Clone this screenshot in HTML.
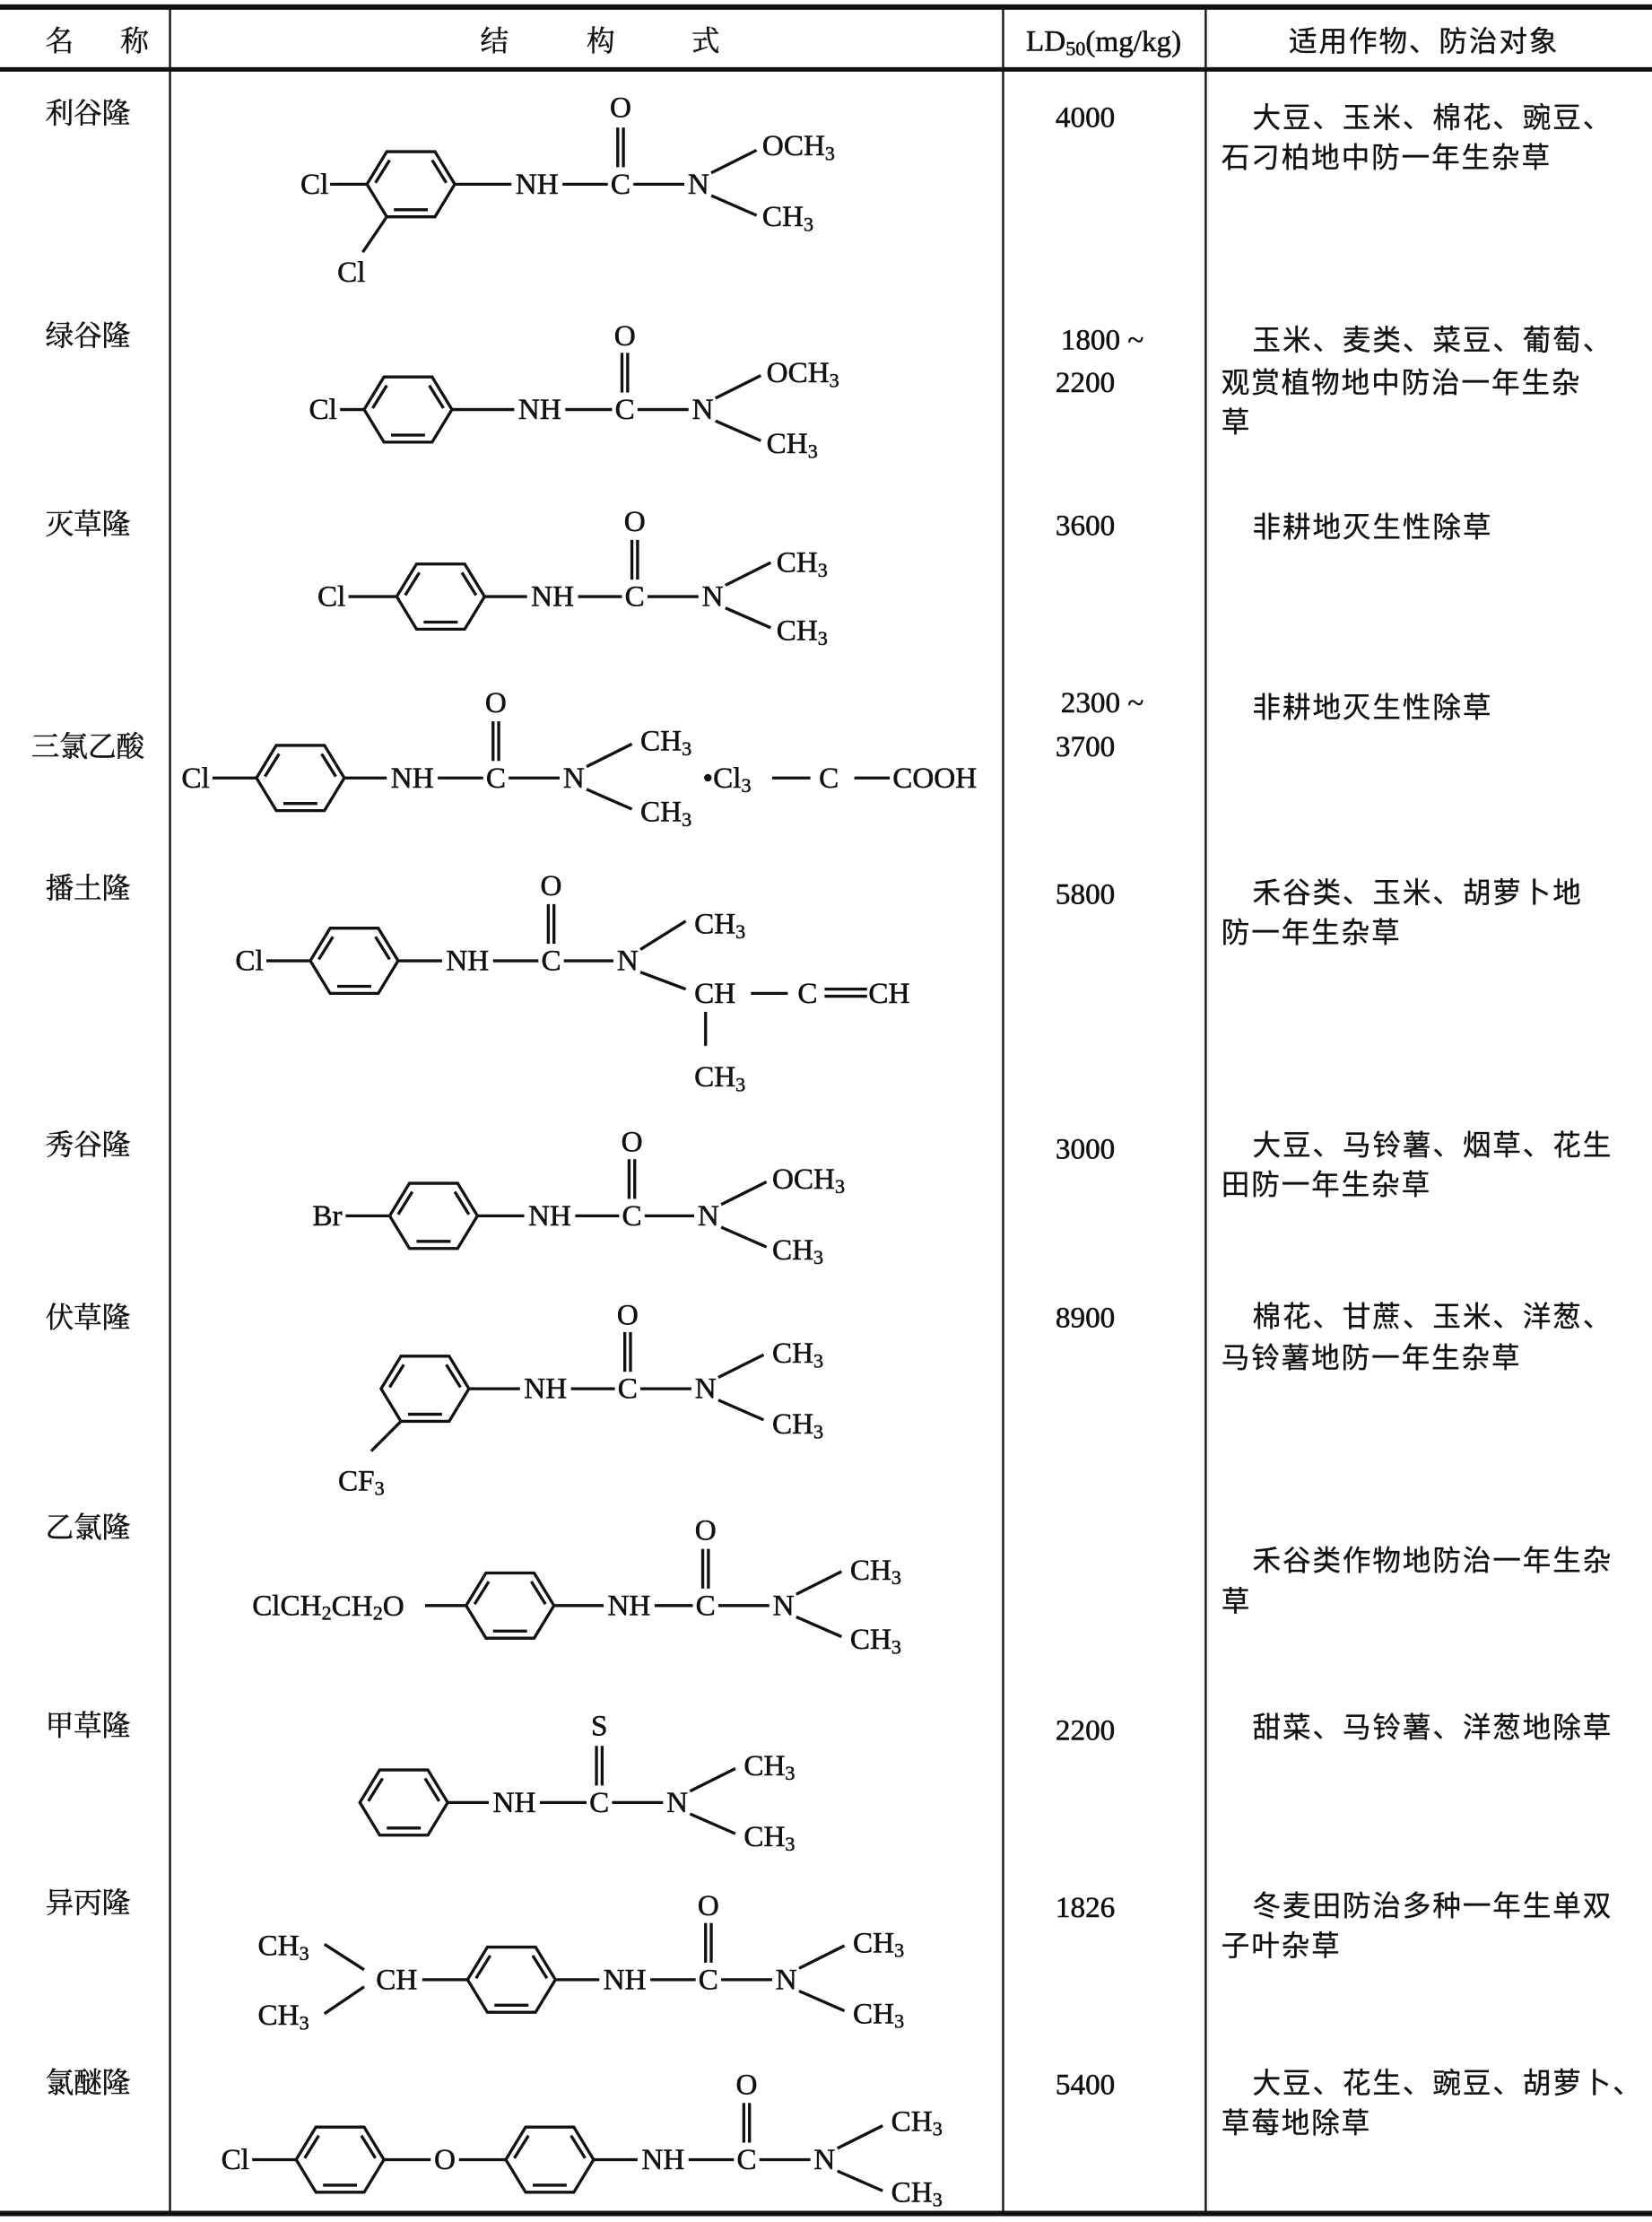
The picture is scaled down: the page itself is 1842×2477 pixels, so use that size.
<!DOCTYPE html>
<html><head><meta charset="utf-8"><style>
html,body{margin:0;padding:0;background:#fff;}
svg{display:block;}
.t{font-family:"Liberation Serif",serif;font-size:21px;dominant-baseline:central;fill:#111;stroke:#111;stroke-width:0.35px;}
.m{text-anchor:middle;}
.c{font-family:"Liberation Serif","Noto Serif CJK SC","Noto Sans CJK SC",serif;font-size:20px;dominant-baseline:central;fill:#111;stroke:#111;stroke-width:0.3px;}
.z{font-family:"Liberation Sans","Noto Sans CJK SC",sans-serif;font-size:20px;dominant-baseline:central;fill:#111;letter-spacing:1.2px;stroke:#111;stroke-width:0.2px;}
line,path{stroke:#111;stroke-width:2.1;fill:none;}
</style></head><body>
<svg width="1842" height="2477" viewBox="0 0 1166 1568" preserveAspectRatio="none" xmlns="http://www.w3.org/2000/svg">
<defs>
<g id="r">
<path d="M-31,0 L-17,-23 L17,-23 L31,0 L17,23 L-17,23 Z"/>
<line x1="-25" y1="-1" x2="-15" y2="-17"/>
<line x1="25" y1="-1" x2="15" y2="-17"/>
<line x1="-12" y1="18" x2="12" y2="18"/>
</g>
</defs>
<line x1="0" y1="5" x2="1166" y2="5" style="stroke-width:3.8"/>
<line x1="0" y1="49" x2="1166" y2="49" style="stroke-width:3.2"/>
<line x1="0" y1="1562" x2="1166" y2="1562" style="stroke-width:3.8"/>
<line x1="120" y1="5" x2="120" y2="1562" style="stroke-width:1.5"/>
<line x1="708" y1="5" x2="708" y2="1562" style="stroke-width:1.5"/>
<line x1="851" y1="5" x2="851" y2="1562" style="stroke-width:1.5"/>
<text class="c m" x="42" y="29">名</text><text class="c m" x="95" y="29">称</text>
<text class="c m" x="349" y="29">结</text><text class="c m" x="424" y="29">构</text><text class="c m" x="498" y="29">式</text>
<text class="t m" x="779" y="29">LD<tspan font-size="14" dy="5">50</tspan><tspan dy="-5">(mg/kg)</tspan></text>
<text class="z m" x="1005" y="29">适用作物、防治对象</text>

<text class="c m" x="62" y="80">利谷隆</text>
<text class="c m" x="62" y="237">绿谷隆</text>
<text class="c m" x="62" y="370">灭草隆</text>
<text class="c m" x="62" y="527">三氯乙酸</text>
<text class="c m" x="62" y="627">播土隆</text>
<text class="c m" x="62" y="808">秀谷隆</text>
<text class="c m" x="62" y="930">伏草隆</text>
<text class="c m" x="62" y="1078">乙氯隆</text>
<text class="c m" x="62" y="1218">甲草隆</text>
<text class="c m" x="62" y="1343">异丙隆</text>
<text class="c m" x="62" y="1470">氯醚隆</text>

<text class="t m" x="766" y="83">4000</text>
<text class="t m" x="778" y="240">1800 ~</text><text class="t m" x="766" y="270">2200</text>
<text class="t m" x="766" y="371">3600</text>
<text class="t m" x="778" y="496">2300 ~</text><text class="t m" x="766" y="527">3700</text>
<text class="t m" x="766" y="631">5800</text>
<text class="t m" x="766" y="811">3000</text>
<text class="t m" x="766" y="930">8900</text>
<text class="t m" x="766" y="1221">2200</text>
<text class="t m" x="766" y="1346">1826</text>
<text class="t m" x="766" y="1471">5400</text>

<text class="z" x="884" y="83">大豆、玉米、棉花、豌豆、</text>
<text class="z" x="862" y="111">石刁柏地中防一年生杂草</text>
<text class="z" x="884" y="240">玉米、麦类、菜豆、葡萄、</text>
<text class="z" x="862" y="270">观赏植物地中防治一年生杂</text>
<text class="z" x="862" y="298">草</text>
<text class="z" x="884" y="372">非耕地灭生性除草</text>
<text class="z" x="884" y="499">非耕地灭生性除草</text>
<text class="z" x="884" y="630">禾谷类、玉米、胡萝卜地</text>
<text class="z" x="862" y="658">防一年生杂草</text>
<text class="z" x="884" y="808">大豆、马铃薯、烟草、花生</text>
<text class="z" x="862" y="836">田防一年生杂草</text>
<text class="z" x="884" y="929">棉花、甘蔗、玉米、洋葱、</text>
<text class="z" x="862" y="958">马铃薯地防一年生杂草</text>
<text class="z" x="884" y="1101">禾谷类作物地防治一年生杂</text>
<text class="z" x="862" y="1130">草</text>
<text class="z" x="884" y="1219">甜菜、马铃薯、洋葱地除草</text>
<text class="z" x="884" y="1345">冬麦田防治多种一年生单双</text>
<text class="z" x="862" y="1373">子叶杂草</text>
<text class="z" x="884" y="1470">大豆、花生、豌豆、胡萝卜、</text>
<text class="z" x="862" y="1498">草莓地除草</text>

<use href="#r" transform="translate(290,130)"/>
<text class="t m" x="222" y="130">Cl</text>
<line x1="233" y1="130" x2="259" y2="130"/>
<line x1="273" y1="153" x2="256" y2="178"/>
<text class="t m" x="248" y="192">Cl</text>
<line x1="321" y1="130" x2="361" y2="130"/>
<text class="t m" x="379" y="130">NH</text>
<line x1="397" y1="130" x2="429" y2="130"/>
<text class="t m" x="438" y="130">C</text>
<line x1="447" y1="130" x2="483" y2="130"/>
<text class="t m" x="493" y="130">N</text>
<line x1="436" y1="118" x2="436" y2="90"/><line x1="440" y1="118" x2="440" y2="90"/>
<text class="t m" x="438" y="76">O</text>
<line x1="502" y1="122" x2="534" y2="106"/><line x1="502" y1="138" x2="534" y2="152"/>
<text class="t" x="538" y="103">OCH<tspan font-size="14" dy="5">3</tspan></text>
<text class="t" x="538" y="153">CH<tspan font-size="14" dy="5">3</tspan></text>

<use href="#r" transform="translate(288,289)"/>
<text class="t m" x="228" y="289">Cl</text>
<line x1="240" y1="289" x2="257" y2="289"/>
<line x1="319" y1="289" x2="363" y2="289"/>
<text class="t m" x="381" y="289">NH</text>
<line x1="399" y1="289" x2="432" y2="289"/>
<text class="t m" x="441" y="289">C</text>
<line x1="450" y1="289" x2="486" y2="289"/>
<text class="t m" x="496" y="289">N</text>
<line x1="439" y1="277" x2="439" y2="249"/><line x1="443" y1="277" x2="443" y2="249"/>
<text class="t m" x="441" y="237">O</text>
<line x1="505" y1="281" x2="537" y2="265"/><line x1="505" y1="297" x2="537" y2="311"/>
<text class="t" x="541" y="263">OCH<tspan font-size="14" dy="5">3</tspan></text>
<text class="t" x="541" y="313">CH<tspan font-size="14" dy="5">3</tspan></text>

<use href="#r" transform="translate(311,421)"/>
<text class="t m" x="234" y="421">Cl</text>
<line x1="246" y1="421" x2="280" y2="421"/>
<line x1="342" y1="421" x2="372" y2="421"/>
<text class="t m" x="390" y="421">NH</text>
<line x1="408" y1="421" x2="439" y2="421"/>
<text class="t m" x="448" y="421">C</text>
<line x1="457" y1="421" x2="493" y2="421"/>
<text class="t m" x="503" y="421">N</text>
<line x1="446" y1="409" x2="446" y2="381"/><line x1="450" y1="409" x2="450" y2="381"/>
<text class="t m" x="448" y="368">O</text>
<line x1="512" y1="413" x2="544" y2="397"/><line x1="512" y1="429" x2="544" y2="443"/>
<text class="t" x="548" y="397">CH<tspan font-size="14" dy="5">3</tspan></text>
<text class="t" x="548" y="445">CH<tspan font-size="14" dy="5">3</tspan></text>

<use href="#r" transform="translate(212,549)"/>
<text class="t m" x="138" y="549">Cl</text>
<line x1="150" y1="549" x2="181" y2="549"/>
<line x1="243" y1="549" x2="273" y2="549"/>
<text class="t m" x="291" y="549">NH</text>
<line x1="309" y1="549" x2="341" y2="549"/>
<text class="t m" x="350" y="549">C</text>
<line x1="359" y1="549" x2="395" y2="549"/>
<text class="t m" x="405" y="549">N</text>
<line x1="348" y1="537" x2="348" y2="509"/><line x1="352" y1="537" x2="352" y2="509"/>
<text class="t m" x="350" y="496">O</text>
<line x1="414" y1="541" x2="446" y2="525"/><line x1="414" y1="557" x2="446" y2="571"/>
<text class="t" x="452" y="523">CH<tspan font-size="14" dy="5">3</tspan></text>
<text class="t" x="452" y="573">CH<tspan font-size="14" dy="5">3</tspan></text>
<text class="t" x="496" y="549">•Cl<tspan font-size="14" dy="5">3</tspan></text>
<line x1="545" y1="549" x2="572" y2="549"/>
<text class="t m" x="585" y="549">C</text>
<line x1="603" y1="549" x2="628" y2="549"/>
<text class="t" x="630" y="549">COOH</text>

<use href="#r" transform="translate(250,678)"/>
<text class="t m" x="176" y="678">Cl</text>
<line x1="188" y1="678" x2="219" y2="678"/>
<line x1="281" y1="678" x2="312" y2="678"/>
<text class="t m" x="330" y="678">NH</text>
<line x1="348" y1="678" x2="380" y2="678"/>
<text class="t m" x="389" y="678">C</text>
<line x1="398" y1="678" x2="433" y2="678"/>
<text class="t m" x="443" y="678">N</text>
<line x1="387" y1="666" x2="387" y2="638"/><line x1="391" y1="666" x2="391" y2="638"/>
<text class="t m" x="389" y="625">O</text>
<line x1="452" y1="670" x2="484" y2="650"/>
<text class="t" x="490" y="652">CH<tspan font-size="14" dy="5">3</tspan></text>
<line x1="452" y1="686" x2="484" y2="698"/>
<text class="t" x="490" y="701">CH</text>
<line x1="530" y1="701" x2="556" y2="701"/>
<text class="t m" x="570" y="701">C</text>
<line x1="582" y1="698" x2="612" y2="698"/><line x1="582" y1="703" x2="612" y2="703"/>
<text class="t" x="613" y="701">CH</text>
<line x1="498" y1="714" x2="498" y2="738"/>
<text class="t" x="490" y="760">CH<tspan font-size="14" dy="5">3</tspan></text>

<use href="#r" transform="translate(306,858)"/>
<text class="t m" x="231" y="858">Br</text>
<line x1="244" y1="858" x2="275" y2="858"/>
<line x1="337" y1="858" x2="370" y2="858"/>
<text class="t m" x="388" y="858">NH</text>
<line x1="406" y1="858" x2="437" y2="858"/>
<text class="t m" x="446" y="858">C</text>
<line x1="455" y1="858" x2="490" y2="858"/>
<text class="t m" x="500" y="858">N</text>
<line x1="444" y1="846" x2="444" y2="818"/><line x1="448" y1="846" x2="448" y2="818"/>
<text class="t m" x="446" y="806">O</text>
<line x1="509" y1="850" x2="541" y2="834"/><line x1="509" y1="866" x2="541" y2="880"/>
<text class="t" x="545" y="832">OCH<tspan font-size="14" dy="5">3</tspan></text>
<text class="t" x="545" y="882">CH<tspan font-size="14" dy="5">3</tspan></text>

<use href="#r" transform="translate(300,980)"/>
<line x1="331" y1="980" x2="367" y2="980"/>
<text class="t m" x="385" y="980">NH</text>
<line x1="403" y1="980" x2="434" y2="980"/>
<text class="t m" x="443" y="980">C</text>
<line x1="452" y1="980" x2="488" y2="980"/>
<text class="t m" x="498" y="980">N</text>
<line x1="441" y1="968" x2="441" y2="940"/><line x1="445" y1="968" x2="445" y2="940"/>
<text class="t m" x="443" y="928">O</text>
<line x1="507" y1="972" x2="539" y2="956"/><line x1="507" y1="988" x2="539" y2="1002"/>
<text class="t" x="545" y="955">CH<tspan font-size="14" dy="5">3</tspan></text>
<text class="t" x="545" y="1005">CH<tspan font-size="14" dy="5">3</tspan></text>
<line x1="283" y1="1003" x2="262" y2="1024"/>
<text class="t m" x="255" y="1045">CF<tspan font-size="14" dy="5">3</tspan></text>

<use href="#r" transform="translate(360,1133)"/>
<text class="t" x="178" y="1133">ClCH<tspan font-size="14" dy="5">2</tspan><tspan dy="-5">CH</tspan><tspan font-size="14" dy="5">2</tspan><tspan dy="-5">O</tspan></text>
<line x1="300" y1="1133" x2="329" y2="1133"/>
<line x1="391" y1="1133" x2="426" y2="1133"/>
<text class="t m" x="444" y="1133">NH</text>
<line x1="462" y1="1133" x2="489" y2="1133"/>
<text class="t m" x="498" y="1133">C</text>
<line x1="507" y1="1133" x2="543" y2="1133"/>
<text class="t m" x="553" y="1133">N</text>
<line x1="496" y1="1121" x2="496" y2="1093"/><line x1="500" y1="1121" x2="500" y2="1093"/>
<text class="t m" x="498" y="1080">O</text>
<line x1="562" y1="1125" x2="594" y2="1109"/><line x1="562" y1="1141" x2="594" y2="1155"/>
<text class="t" x="600" y="1108">CH<tspan font-size="14" dy="5">3</tspan></text>
<text class="t" x="600" y="1157">CH<tspan font-size="14" dy="5">3</tspan></text>

<use href="#r" transform="translate(285,1272)"/>
<line x1="316" y1="1272" x2="345" y2="1272"/>
<text class="t m" x="363" y="1272">NH</text>
<line x1="381" y1="1272" x2="414" y2="1272"/>
<text class="t m" x="423" y="1272">C</text>
<line x1="432" y1="1272" x2="468" y2="1272"/>
<text class="t m" x="478" y="1272">N</text>
<line x1="421" y1="1260" x2="421" y2="1232"/><line x1="425" y1="1260" x2="425" y2="1232"/>
<text class="t m" x="423" y="1218">S</text>
<line x1="487" y1="1264" x2="519" y2="1248"/><line x1="487" y1="1280" x2="519" y2="1294"/>
<text class="t" x="525" y="1246">CH<tspan font-size="14" dy="5">3</tspan></text>
<text class="t" x="525" y="1296">CH<tspan font-size="14" dy="5">3</tspan></text>

<text class="t" x="182" y="1373">CH<tspan font-size="14" dy="5">3</tspan></text>
<text class="t" x="182" y="1422">CH<tspan font-size="14" dy="5">3</tspan></text>
<line x1="229" y1="1372" x2="257" y2="1390"/><line x1="257" y1="1402" x2="229" y2="1421"/>
<text class="t m" x="280" y="1397">CH</text>
<line x1="298" y1="1397" x2="330" y2="1397"/>
<use href="#r" transform="translate(361,1397)"/>
<line x1="392" y1="1397" x2="423" y2="1397"/>
<text class="t m" x="441" y="1397">NH</text>
<line x1="459" y1="1397" x2="491" y2="1397"/>
<text class="t m" x="500" y="1397">C</text>
<line x1="509" y1="1397" x2="545" y2="1397"/>
<text class="t m" x="555" y="1397">N</text>
<line x1="498" y1="1385" x2="498" y2="1357"/><line x1="502" y1="1385" x2="502" y2="1357"/>
<text class="t m" x="500" y="1345">O</text>
<line x1="564" y1="1389" x2="596" y2="1373"/><line x1="564" y1="1405" x2="596" y2="1419"/>
<text class="t" x="602" y="1371">CH<tspan font-size="14" dy="5">3</tspan></text>
<text class="t" x="602" y="1421">CH<tspan font-size="14" dy="5">3</tspan></text>

<text class="t m" x="166" y="1524">Cl</text>
<line x1="178" y1="1524" x2="209" y2="1524"/>
<use href="#r" transform="translate(240,1524)"/>
<line x1="271" y1="1524" x2="304" y2="1524"/>
<text class="t m" x="314" y="1524">O</text>
<line x1="324" y1="1524" x2="357" y2="1524"/>
<use href="#r" transform="translate(388,1524)"/>
<line x1="419" y1="1524" x2="450" y2="1524"/>
<text class="t m" x="468" y="1524">NH</text>
<line x1="486" y1="1524" x2="518" y2="1524"/>
<text class="t m" x="527" y="1524">C</text>
<line x1="536" y1="1524" x2="572" y2="1524"/>
<text class="t m" x="582" y="1524">N</text>
<line x1="525" y1="1512" x2="525" y2="1484"/><line x1="529" y1="1512" x2="529" y2="1484"/>
<text class="t m" x="527" y="1471">O</text>
<line x1="591" y1="1516" x2="623" y2="1500"/><line x1="591" y1="1532" x2="623" y2="1546"/>
<text class="t" x="629" y="1497">CH<tspan font-size="14" dy="5">3</tspan></text>
<text class="t" x="629" y="1547">CH<tspan font-size="14" dy="5">3</tspan></text>
</svg>
</body></html>
